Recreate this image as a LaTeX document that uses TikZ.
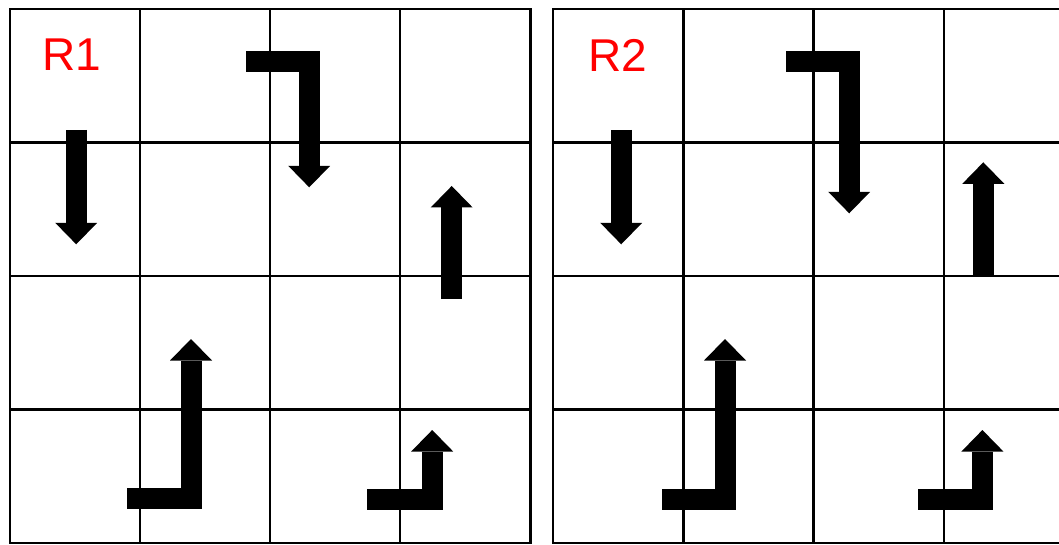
\documentclass[tikz,border=0pt]{standalone}
\usepackage{fontspec}
\setmainfont{Liberation Sans}
\usetikzlibrary{arrows.meta}

\tikzset{
  cellline/.style={line width=2.2pt, line cap=rect, black},
  move/.style={line width=21pt, line join=miter,
    -{Triangle[width=42pt,length=21.5pt,line width=0pt]}},
  regionlabel/.style={text=red, inner sep=0pt, font=\fontsize{46}{48}\selectfont},
}

\begin{document}
\begin{tikzpicture}[x=1pt,y=-1pt]
\useasboundingbox (0,0) rectangle (1059,545);
\clip (0,0) rectangle (1059,545);

% the two 4x4 grids
\foreach \gx in {10,553.3}{
  \foreach \i in {0,...,4}{
    \draw[cellline] (\gx+130.1*\i,9) -- (\gx+130.1*\i,543);
    \draw[cellline] (\gx,9+133.5*\i) -- (\gx+520.4,9+133.5*\i);
  }
}

% region R1
\node[regionlabel] (r1) at (72,55) {R1};
\draw[move] (76.2,130) -- (76.2,244.3);
\draw[move] (246,61.5) -- (309.2,61.5) -- (309.2,187.3);
\draw[move] (451.7,299) -- (451.7,186);
\draw[move] (127.3,498.8) -- (191,498.8) -- (191,339);
\draw[move] (367.3,499.3) -- (432.2,499.3) -- (432.2,430);

% region R2
\node[regionlabel] (r2) at (618,55) {R2};
\draw[move] (621.2,130) -- (621.2,244.3);
\draw[move] (786,61.5) -- (849.2,61.5) -- (849.2,213.3);
\draw[move] (983.3,276.7) -- (983.3,162.3);
\draw[move] (662.3,499.2) -- (725,499.2) -- (725,339);
\draw[move] (918.3,499.6) -- (982.4,499.6) -- (982.4,430);
\end{tikzpicture}
\end{document}
